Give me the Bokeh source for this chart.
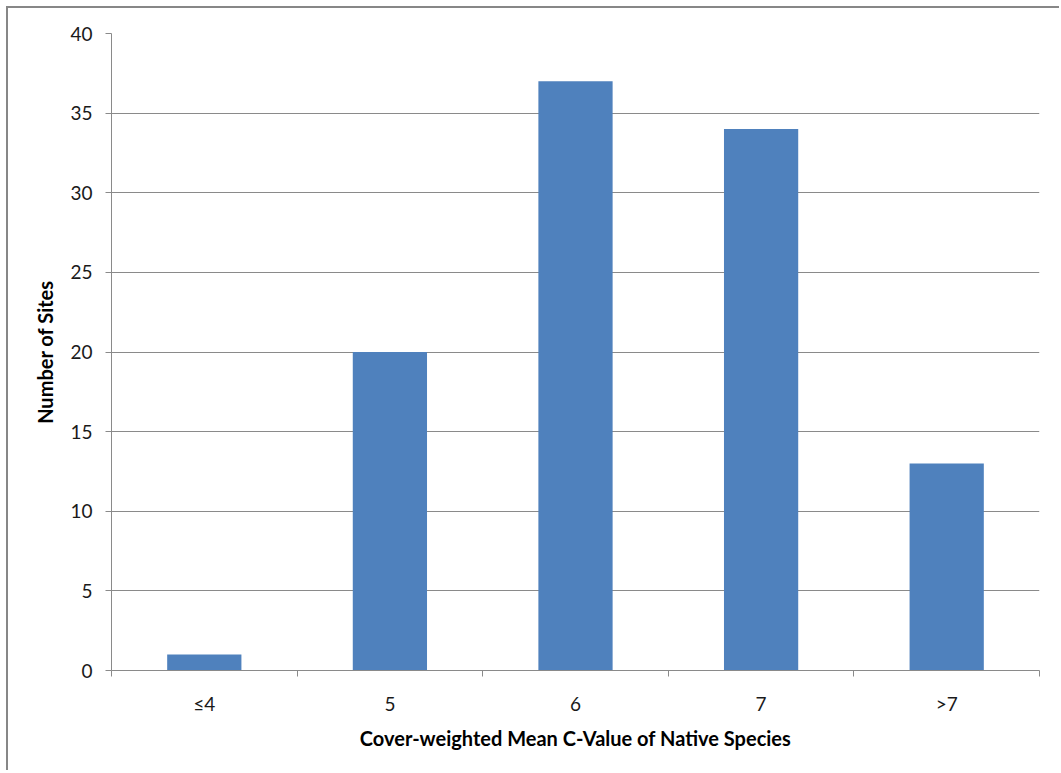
from bokeh.plotting import figure
from bokeh.models import Range1d, FixedTicker
from bokeh.embed import file_html
from bokeh.resources import INLINE

categories = ["≤4", "5", "6", "7", ">7"]
sites = [1, 20, 37, 34, 13]
y_ticks = [0, 5, 10, 15, 20, 25, 30, 35, 40]

x_title = "Cover-weighted Mean C-Value of Native Species"
y_title = "Number of Sites"

GRID = "#8a8a8a"
BAR = "#4F81BD"
FONT = "Lato"

n = len(categories)
centers = [i + 0.5 for i in range(n)]

p = figure(
    frame_width=928, frame_height=637,
    min_border_left=103, min_border_right=20, min_border_top=25, min_border_bottom=100,
    x_range=Range1d(0, n), y_range=Range1d(0, 40),
    output_backend="svg", toolbar_location=None,
    background_fill_color="white", border_fill_color="white",
    styles={"margin-left": "6px", "margin-top": "6px",
            "border-left": "2px solid #878787", "border-top": "2px solid #878787"},
)
p.outline_line_color = None

p.vbar(x=centers, top=sites, width=0.4, fill_color=BAR, line_color=None)

# y axis
p.yaxis.ticker = FixedTicker(ticks=y_ticks)
p.yaxis.axis_line_color = GRID
p.yaxis.major_tick_line_color = GRID
p.yaxis.major_tick_in = 0
p.yaxis.major_tick_out = 6
p.yaxis.minor_tick_line_color = None
p.yaxis.major_label_standoff = 13
p.yaxis.major_label_text_font = FONT
p.yaxis.major_label_text_font_size = "19px"
p.yaxis.major_label_text_color = "#1a1a1a"
p.yaxis.axis_label = y_title
p.yaxis.axis_label_text_font = FONT
p.yaxis.axis_label_text_font_style = "bold"
p.yaxis.axis_label_text_font_size = "20px"
p.yaxis.axis_label_text_color = "black"
p.yaxis.axis_label_standoff = 10

# x axis
p.xaxis.ticker = FixedTicker(ticks=centers, minor_ticks=list(range(n + 1)))
p.xaxis.major_label_overrides = {c: lab for c, lab in zip(centers, categories)}
p.xaxis.axis_line_color = GRID
p.xaxis.major_tick_line_color = None
p.xaxis.minor_tick_line_color = GRID
p.xaxis.minor_tick_in = 0
p.xaxis.minor_tick_out = 6
p.xaxis.major_tick_in = 0
p.xaxis.major_tick_out = 6
p.xaxis.major_label_standoff = 15
p.xaxis.major_label_text_font = FONT
p.xaxis.major_label_text_font_size = "19px"
p.xaxis.major_label_text_color = "#1a1a1a"
p.xaxis.axis_label = x_title
p.xaxis.axis_label_text_font = FONT
p.xaxis.axis_label_text_font_style = "bold"
p.xaxis.axis_label_text_font_size = "20px"
p.xaxis.axis_label_text_color = "black"
p.xaxis.axis_label_standoff = 8

p.xgrid.grid_line_color = None
p.ygrid.ticker = FixedTicker(ticks=y_ticks)
p.ygrid.grid_line_color = GRID
p.ygrid.grid_line_width = 1

open("out.html", "w").write(file_html(p, INLINE))
